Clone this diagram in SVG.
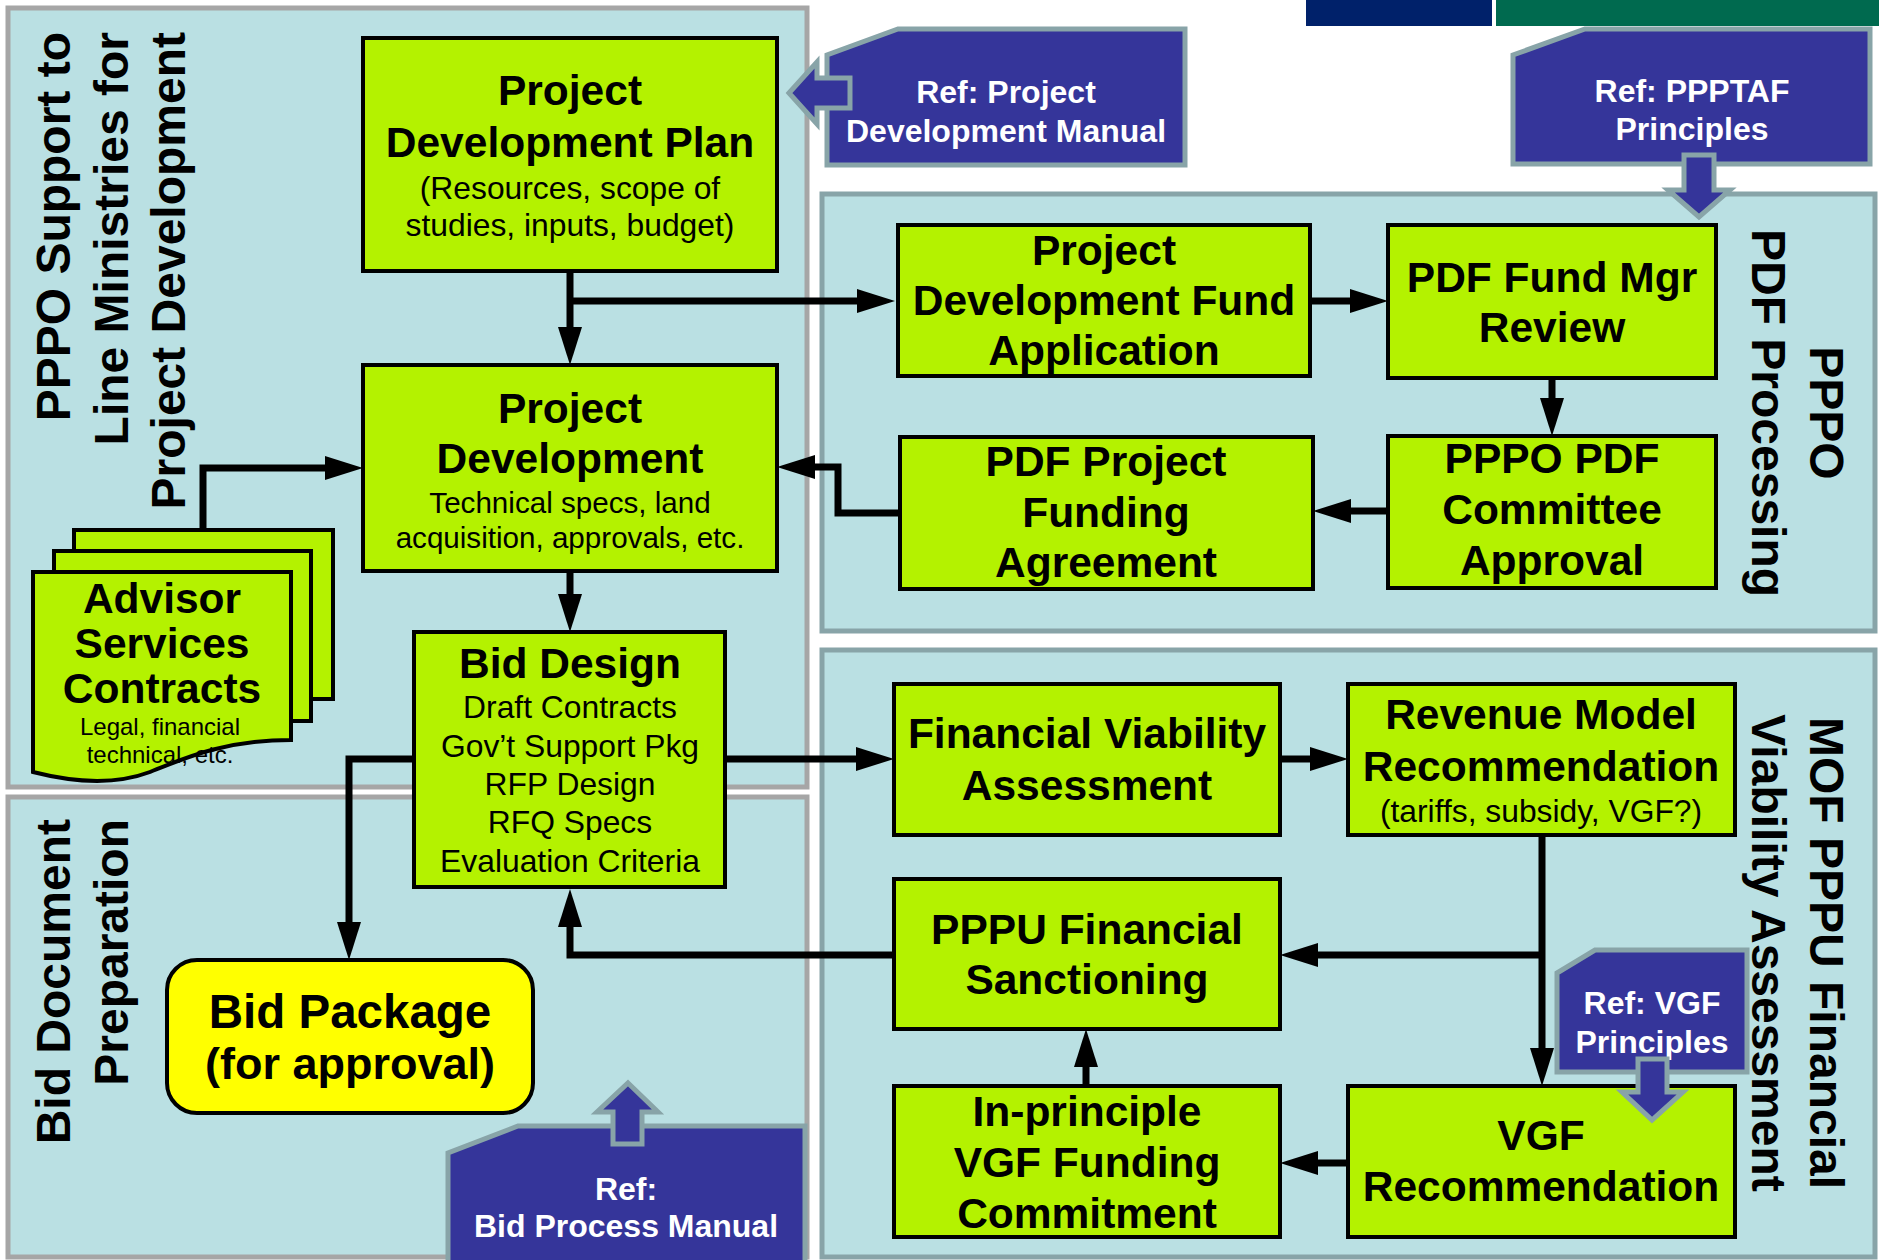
<svg xmlns="http://www.w3.org/2000/svg" width="1879" height="1260" viewBox="0 0 1879 1260">
<style>
.lp{fill:#BAE0E3;stroke:#A6A6A6;stroke-width:5}
.rp{fill:#BAE0E3;stroke:#88A4A8;stroke-width:5}
.box{fill:#B4F200;stroke:#000;stroke-width:4}
.ref{fill:#35359A;stroke:#88A4A8;stroke-width:5;stroke-linejoin:miter}
.b{font-family:"Liberation Sans",Arial,sans-serif;font-weight:bold;fill:#000;text-anchor:middle;font-size:42.5px}
.r{font-family:"Liberation Sans",Arial,sans-serif;fill:#000;text-anchor:middle}
.w{font-family:"Liberation Sans",Arial,sans-serif;font-weight:bold;fill:#fff;text-anchor:middle;font-size:32px}
.lab{font-family:"Liberation Sans",Arial,sans-serif;font-weight:bold;fill:#000;font-size:48px}
.c{fill:none;stroke:#000;stroke-width:7;stroke-linejoin:miter;marker-end:url(#ah)}
</style>
<defs>
<marker id="ah" markerUnits="userSpaceOnUse" markerWidth="40" markerHeight="26" refX="0" refY="12" orient="auto" viewBox="0 0 40 26">
<path d="M0,0 L38,12 L0,24 Z" fill="#000"/>
</marker>
</defs>
<rect width="1879" height="1260" fill="#fff"/>
<!-- top bars -->
<rect x="1306" y="0" width="186" height="26" fill="#00216A"/>
<rect x="1496" y="0" width="383" height="26" fill="#006A4F"/>
<!-- panels -->
<g id="panel-pppo-support">
<rect class="lp" x="8" y="8" width="799" height="779"/>
<text class="lab" text-anchor="end" transform="translate(70,32) rotate(-90)">PPPO Support to<tspan x="0" dy="57.5">Line Ministries for</tspan><tspan x="0" dy="57.5">Project Development</tspan></text>
</g>
<g id="panel-bid-doc">
<rect class="lp" x="8" y="797" width="799" height="460"/>
<text class="lab" text-anchor="end" transform="translate(70,819) rotate(-90)">Bid Document<tspan x="0" dy="58">Preparation</tspan></text>
</g>
<g id="panel-pdf">
<rect class="rp" x="822" y="194" width="1053" height="437"/>
<text class="lab" text-anchor="middle" transform="translate(1810,413) rotate(90)">PPPO<tspan x="0" dy="58">PDF Processing</tspan></text>
</g>
<g id="panel-mof">
<rect class="rp" x="822" y="650" width="1053" height="607"/>
<text class="lab" text-anchor="middle" transform="translate(1810,953) rotate(90)">MOF PPPU Financial<tspan x="0" dy="58">Viability Assessment</tspan></text>
</g>
<!-- reference boxes -->
<g id="ref-pdm">
<polygon class="ref" points="898,29 1185,29 1185,165 827,165 827,55"/>
<text class="w" x="1006" y="103">Ref: Project</text>
<text class="w" x="1006" y="142">Development Manual</text>
</g>
<g id="ref-ppptaf">
<polygon class="ref" points="1585,29 1870,29 1870,164 1513,164 1513,55"/>
<text class="w" x="1692" y="102">Ref: PPPTAF</text>
<text class="w" x="1692" y="140">Principles</text>
</g>
<g id="ref-vgf">
<polygon class="ref" points="1595,950 1747,950 1747,1072 1557,1072 1557,973"/>
<text class="w" x="1652" y="1014">Ref: VGF</text>
<text class="w" x="1652" y="1053">Principles</text>
</g>
<g id="ref-bid">
<polygon class="ref" points="518,1126 805,1126 805,1265 448,1265 448,1153"/>
<text class="w" x="626" y="1200">Ref:</text>
<text class="w" x="626" y="1237">Bid Process Manual</text>
</g>
<!-- connectors -->
<g id="connectors">
<path class="c" d="M570,271 V327"/>
<path class="c" d="M570,301 H857"/>
<path class="c" d="M1310,301 H1350"/>
<path class="c" d="M1552,378 V398"/>
<path class="c" d="M1388,511 H1351"/>
<path class="c" d="M900,513 H838 V467 H815"/>
<path class="c" d="M203,530 V468 H325"/>
<path class="c" d="M570,571 V594"/>
<path class="c" d="M414,759 H349 V922"/>
<path class="c" d="M725,759 H856"/>
<path class="c" d="M1280,759 H1310"/>
<path class="c" d="M1542,836 V1048"/>
<path class="c" d="M1542,955 H1318"/>
<path class="c" d="M1348,1163 H1318"/>
<path class="c" d="M1086,1086 V1067"/>
<path class="c" d="M894,955 H570 V927"/>
</g>
<!-- nodes -->
<g id="pdp">
<rect class="box" x="363" y="38" width="414" height="233"/>
<text class="b" x="570" y="105">Project</text>
<text class="b" x="570" y="157">Development Plan</text>
<text class="r" font-size="31.8" x="570" y="199">(Resources, scope of</text>
<text class="r" font-size="31.8" x="570" y="236">studies, inputs, budget)</text>
</g>
<g id="pd">
<rect class="box" x="363" y="365" width="414" height="206"/>
<text class="b" x="570" y="423">Project</text>
<text class="b" x="570" y="473">Development</text>
<text class="r" font-size="29.6" x="570" y="513">Technical specs, land</text>
<text class="r" font-size="29.6" x="570" y="548">acquisition, approvals, etc.</text>
</g>
<g id="advisor">
<rect class="box" x="74" y="530" width="259" height="169"/>
<rect class="box" x="54" y="551" width="257" height="170"/>
<path class="box" d="M33,572 H291 V740 C225,740 185,758 150,772 C118,784 80,784 33,772 Z"/>
<text class="b" x="162" y="613">Advisor</text>
<text class="b" x="162" y="658">Services</text>
<text class="b" x="162" y="703">Contracts</text>
<text class="r" font-size="24" x="160" y="735">Legal, financial</text>
<text class="r" font-size="24" x="160" y="763">technical, etc.</text>
</g>
<g id="bid-design">
<rect class="box" x="414" y="632" width="311" height="255"/>
<text class="b" x="570" y="678">Bid Design</text>
<text class="r" font-size="31.8" x="570" y="718">Draft Contracts</text>
<text class="r" font-size="31.8" x="570" y="757">Gov’t Support Pkg</text>
<text class="r" font-size="31.8" x="570" y="795">RFP Design</text>
<text class="r" font-size="31.8" x="570" y="833">RFQ Specs</text>
<text class="r" font-size="31.8" x="570" y="872">Evaluation Criteria</text>
</g>
<g id="bid-package">
<rect x="167" y="960" width="366" height="153" rx="30" fill="#FFFF00" stroke="#000" stroke-width="4"/>
<text class="b" style="font-size:47.5px" x="350" y="1028">Bid Package</text>
<text class="b" style="font-size:45px" x="350" y="1079">(for approval)</text>
</g>
<g id="pdf-application">
<rect class="box" x="898" y="225" width="412" height="151"/>
<text class="b" x="1104" y="265">Project</text>
<text class="b" x="1104" y="315">Development Fund</text>
<text class="b" x="1104" y="365">Application</text>
</g>
<g id="pdf-review">
<rect class="box" x="1388" y="225" width="328" height="153"/>
<text class="b" x="1552" y="292">PDF Fund Mgr</text>
<text class="b" x="1552" y="342">Review</text>
</g>
<g id="pdf-approval">
<rect class="box" x="1388" y="436" width="328" height="152"/>
<text class="b" x="1552" y="473">PPPO PDF</text>
<text class="b" x="1552" y="524">Committee</text>
<text class="b" x="1552" y="575">Approval</text>
</g>
<g id="pdf-agreement">
<rect class="box" x="900" y="437" width="413" height="152"/>
<text class="b" x="1106" y="476">PDF Project</text>
<text class="b" x="1106" y="527">Funding</text>
<text class="b" x="1106" y="577">Agreement</text>
</g>
<g id="fva">
<rect class="box" x="894" y="684" width="386" height="151"/>
<text class="b" x="1087" y="748">Financial Viability</text>
<text class="b" x="1087" y="800">Assessment</text>
</g>
<g id="rmr">
<rect class="box" x="1348" y="684" width="387" height="151"/>
<text class="b" x="1541" y="729">Revenue Model</text>
<text class="b" x="1541" y="781">Recommendation</text>
<text class="r" font-size="31.8" x="1541" y="822">(tariffs, subsidy, VGF?)</text>
</g>
<g id="pppu">
<rect class="box" x="894" y="879" width="386" height="150"/>
<text class="b" x="1087" y="944">PPPU Financial</text>
<text class="b" x="1087" y="994">Sanctioning</text>
</g>
<g id="inprinciple">
<rect class="box" x="894" y="1086" width="386" height="151"/>
<text class="b" x="1087" y="1126">In-principle</text>
<text class="b" x="1087" y="1177">VGF Funding</text>
<text class="b" x="1087" y="1228">Commitment</text>
</g>
<g id="vgf-rec">
<rect class="box" x="1348" y="1086" width="387" height="151"/>
<text class="b" x="1541" y="1150">VGF</text>
<text class="b" x="1541" y="1201">Recommendation</text>
</g>
<!-- reference block arrows -->
<g id="ref-arrows">
<polygon class="ref" stroke-width="4" points="789,93 817,62 817,78 850,78 850,108 817,108 817,124"/>
<polygon class="ref" stroke-width="4" points="1684,155 1714,155 1714,190 1730,190 1699,217 1668,190 1684,190"/>
<polygon class="ref" stroke-width="4" points="1638,1059 1667,1059 1667,1092 1683,1092 1652,1120 1622,1092 1638,1092"/>
<polygon class="ref" stroke-width="4" points="628,1083 658,1112 642,1112 642,1144 613,1144 613,1112 597,1112"/>
</g>
</svg>
